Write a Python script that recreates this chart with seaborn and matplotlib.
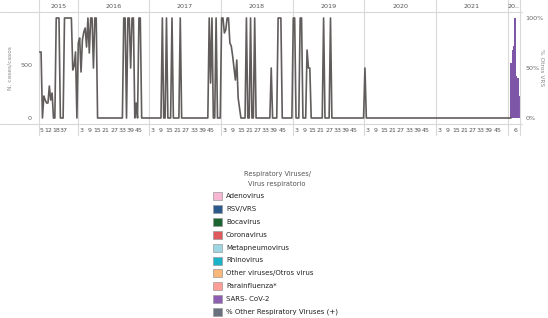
import numpy as np
import pandas as pd
import matplotlib
matplotlib.use("Agg")
import matplotlib.pyplot as plt
import seaborn as sns
from matplotlib.patches import Rectangle
from matplotlib.lines import Line2D

# ---------------- data ----------------
years = ["2015", "2016", "2017", "2018", "2019", "2020", "2021", "2022"]
year_labels = ["2015", "2016", "2017", "2018", "2019", "2020", "2021", "20.."]

weeks_2015 = [4, 5, 6, 7, 8, 9, 12, 13, 14, 15, 16, 17, 18, 19, 20, 21, 22,
              37, 38, 39, 40, 41, 42, 43, 44, 45, 46, 47]
pct_2015 = [66, 66, 0, 22, 18, 15, 15, 32, 18, 25, 0, 0, 100, 100, 100, 0,
            0, 0, 100, 100, 100, 100, 100, 100, 48, 52, 66, 0]

weeks_full = list(range(1, 53))
pct_2016 = [75, 80, 46, 78, 86, 90, 71, 100, 65, 100, 100, 50, 100,
            100, 0, 0, 0, 0, 0, 0, 0, 0, 0, 0, 0, 0,
            0, 0, 0, 0, 0, 0, 0, 100, 100, 0, 100, 100, 50,
            100, 100, 0, 15, 0, 100, 100, 0, 0, 0, 0, 0, 0]
pct_2017 = [0, 0, 0, 0, 0, 0, 0, 0, 0, 100, 0, 0, 100,
            0, 0, 0, 100, 0, 0, 0, 0, 0, 100, 0, 0, 0,
            0, 0, 0, 0, 0, 0, 0, 0, 0, 0, 0, 0, 0,
            0, 0, 0, 0, 100, 35, 100, 0, 0, 100, 0, 0, 0]
pct_2018 = [100, 100, 85, 88, 100, 100, 75, 72, 62, 50, 38, 58, 20,
            10, 0, 0, 0, 0, 100, 0, 0, 100, 0, 0, 100, 0,
            0, 0, 0, 0, 0, 0, 0, 0, 0, 0, 50, 0, 0,
            0, 0, 100, 100, 100, 0, 0, 0, 0, 0, 0, 0, 0]
pct_2019 = [100, 100, 0, 0, 0, 100, 100, 0, 0, 0, 68, 50, 50,
            0, 0, 0, 0, 0, 0, 0, 0, 0, 100, 0, 0, 0,
            0, 100, 0, 0, 0, 0, 0, 0, 0, 0, 0, 0, 0,
            0, 0, 0, 0, 0, 0, 0, 0, 0, 0, 0, 0, 0]
pct_2020 = [50, 0, 0, 0, 0, 0, 0, 0, 0, 0, 0, 0, 0,
            0, 0, 0, 0, 0, 0, 0, 0, 0, 0, 0, 0, 0,
            0, 0, 0, 0, 0, 0, 0, 0, 0, 0, 0, 0, 0,
            0, 0, 0, 0, 0, 0, 0, 0, 0, 0, 0, 0, 0]
pct_2021 = [0, 0, 0, 0, 0, 0, 0, 0, 0, 0, 0, 0, 0,
            0, 0, 0, 0, 0, 0, 0, 0, 0, 0, 0, 0, 0,
            0, 0, 0, 0, 0, 0, 0, 0, 0, 0, 0, 0, 0,
            0, 0, 0, 0, 0, 0, 0, 0, 0, 0, 0, 0, 0]
weeks_2022 = [1, 2, 3, 4, 5, 6, 7, 8, 9]
pct_2022 = [0, 0, 0]
sars_cov2_2022 = [0, 0, 520, 640, 680, 940, 400, 380, 210]

tick_weeks_full = [3, 9, 15, 21, 27, 33, 39, 45]
tick_weeks_2015 = [5, 12, 18, 37]
tick_weeks_2022 = [6]

legend_names = ["Adenovirus", "RSV/VRS", "Bocavirus", "Coronavirus",
                "Metapneumovirus", "Rhinovirus", "Other viruses/Otros virus",
                "Parainfluenza*", "SARS- CoV-2", "% Other Respiratory Viruses (+)"]
legend_colors = ["#f7b6d2", "#2b5b8c", "#1b6532", "#e05a5d", "#9ed6e3",
                 "#1bb3c8", "#f9b77a", "#ff9d97", "#8c5fb2", "#69727c"]

# ---------------- build positions ----------------
slots = {"2015": weeks_2015, "2016": weeks_full, "2017": weeks_full,
         "2018": weeks_full, "2019": weeks_full, "2020": weeks_full,
         "2021": weeks_full, "2022": weeks_2022}
offsets = {}
acc = 0
for y in years:
    offsets[y] = acc
    acc += len(slots[y])
total = acc

def pos(y, w):
    return offsets[y] + slots[y].index(w) + 0.5

line_data = {"2015": pct_2015, "2016": pct_2016, "2017": pct_2017,
             "2018": pct_2018, "2019": pct_2019, "2020": pct_2020,
             "2021": pct_2021, "2022": pct_2022}
rows = []
for y in years:
    vals = line_data[y]
    for w, v in zip(slots[y][:len(vals)], vals):
        rows.append({"pos": pos(y, w), "pct": v})
df_line = pd.DataFrame(rows)

df_bar = pd.DataFrame({"pos": [pos("2022", w) for w in weeks_2022],
                       "n": sars_cov2_2022})

# ---------------- figure ----------------
sns.set_theme(style="white")
plt.rcParams["font.family"] = ["DejaVu Sans"]
W, H = 548, 318
fig = plt.figure(figsize=(W / 100, H / 100), dpi=100)
x0, x1, ytop, ybot = 39, 520, 12, 124
ax = fig.add_axes([x0 / W, 1 - ybot / H, (x1 - x0) / W, (ybot - ytop) / H])
ax.set_xlim(0, total)
ax.set_ylim(-57, 1000)

ax.bar(df_bar["pos"], df_bar["n"], width=1.0, color="#7d56a8", linewidth=0)

ax2 = ax.twinx()
ax2.set_ylim(-6, 106)
sns.lineplot(data=df_line, x="pos", y="pct", ax=ax2, color="#625d5d",
             linewidth=1.2, estimator=None, sort=True)

for a in (ax, ax2):
    for s in a.spines.values():
        s.set_visible(False)
ax2.set_xlabel("")
ax2.set_ylabel("")

ax.set_yticks([0, 500])
ax.set_yticklabels(["0", "500"], fontsize=4.6, color="#666666")
ax.tick_params(axis="y", length=0, pad=5)
ax2.set_yticks([0, 50, 100])
ax2.set_yticklabels(["0%", "50%", "100%"], fontsize=4.6, color="#666666")
ax2.tick_params(axis="y", length=0, pad=4)

# x ticks
tpos, tlab = [], []
for y in years:
    tw = tick_weeks_2015 if y == "2015" else (tick_weeks_2022 if y == "2022" else tick_weeks_full)
    for w in tw:
        tpos.append(pos(y, w))
        tlab.append(str(w))
ax.set_xticks(tpos)
ax.set_xticklabels(tlab, fontsize=4.5, color="#555555")
ax.tick_params(axis="x", length=0, pad=3)

# separators & header
sep_col = "#d8d8d8"
for y in years[1:]:
    ax.axvline(offsets[y], ymin=-11 / 112, ymax=124 / 112, color=sep_col,
               lw=0.8, clip_on=False)
ax.axvline(0, ymin=-11 / 112, ymax=124 / 112, color=sep_col, lw=0.8, clip_on=False)
ax.axvline(total, ymin=-11 / 112, ymax=124 / 112, color=sep_col, lw=0.8, clip_on=False)
for y, lab in zip(years, year_labels):
    cx = offsets[y] + len(slots[y]) / 2
    ax.text(cx, 1 + 6 / 112, lab, transform=ax.get_xaxis_transform(),
            ha="center", va="center", fontsize=4.6, color="#555555")

fig.add_artist(Line2D([0, 522 / W], [1 - 12 / H, 1 - 12 / H], color=sep_col, lw=0.8,
                      transform=fig.transFigure))
fig.add_artist(Line2D([0, 522 / W], [1 - 124 / H, 1 - 124 / H], color=sep_col, lw=0.8,
                      transform=fig.transFigure))

fig.text(10 / W, 1 - 68 / H, "N. cases/casos", rotation=90, ha="center",
         va="center", fontsize=4.2, color="#888888")
fig.text(541 / W, 1 - 68 / H, "% Otros VRS", rotation=270, ha="center",
         va="center", fontsize=4.2, color="#888888")

# legend (manual)
fig.text(277 / W, 1 - 174 / H, "Respiratory Viruses/", ha="center", va="center",
         fontsize=4.8, color="#555555")
fig.text(277 / W, 1 - 184 / H, "Virus respiratorio", ha="center", va="center",
         fontsize=4.8, color="#555555")
for i, (nm, c) in enumerate(zip(legend_names, legend_colors)):
    yc = 196 + 12.9 * i
    fig.add_artist(Rectangle((213 / W, 1 - (yc + 4) / H), 9 / W, 8 / H,
                             transform=fig.transFigure, facecolor=c,
                             edgecolor="#9a9a9a", lw=0.5))
    fig.text(226 / W, 1 - yc / H, nm, ha="left", va="center", fontsize=5.0,
             color="#222222")

fig.savefig("out.png", dpi=100)
